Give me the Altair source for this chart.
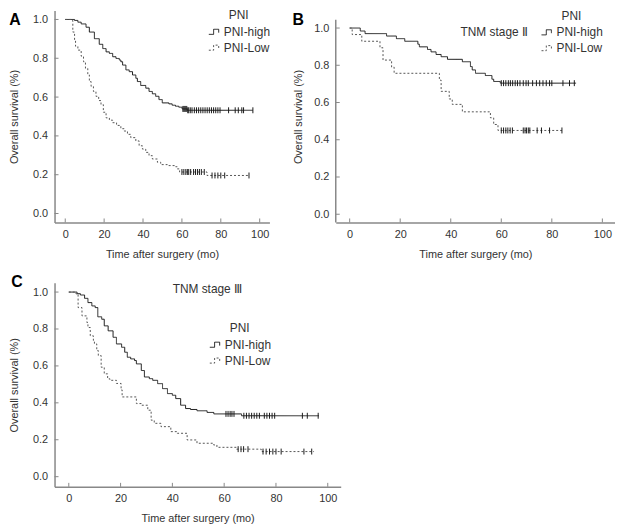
import altair as alt
import pandas as pd

GROUPS = ["PNI-high", "PNI-Low"]
X_TICKS = [0, 20, 40, 60, 80, 100]
Y_TICKS = [0.0, 0.2, 0.4, 0.6, 0.8, 1.0]
X_DOM = [-5.5, 105]
FONT = "Liberation Sans"
STEP_PATH = "M-1,0.45L-0.15,0.45L-0.15,-0.45L0.75,-0.45L0.75,0.15"

# ---- Panel A (all stages) ----
a_hi_t = [0, 4.8, 6.5, 8.2, 10.7, 12.4, 15.0, 17.5, 19.3, 21.0, 22.7, 24.4, 26.1, 27.8, 28.6, 29.5,
          31.2, 32.9, 34.6, 36.3, 37.1, 38.8, 41.4, 43.1, 44.8, 46.5, 48.2, 49.9, 53.3, 55.0, 56.7,
          58.4, 60.1, 62.7, 96.5]
a_hi_s = [1.0, 0.995, 0.986, 0.977, 0.960, 0.935, 0.901, 0.872, 0.850, 0.833, 0.825, 0.808, 0.799,
          0.791, 0.782, 0.765, 0.740, 0.731, 0.714, 0.697, 0.680, 0.660, 0.646, 0.629, 0.617, 0.604,
          0.587, 0.570, 0.565, 0.558, 0.553, 0.548, 0.539, 0.532, 0.532]
a_hi_cens = [60.5, 61, 61.5, 62, 62.5, 63, 63.5, 64.3, 65.2, 66.4, 67.5, 68.6, 69.7, 70.8, 71.9, 73,
             74.1, 75.2, 76.3, 77.4, 78.5, 79.6, 84, 87.4, 89, 90.8, 91.7, 96.5]
a_lo_t = [0, 3.1, 3.9, 4.8, 5.3, 6.5, 8.2, 9.4, 10.4, 11.6, 12.4, 13.3, 14.5, 15.8, 17.2, 18.4, 19.6,
          21.0, 22.7, 24.4, 26.4, 28.6, 30.3, 32.0, 33.7, 36.3, 38.0, 39.7, 41.4, 43.1, 44.8, 47.4,
          49.1, 52.5, 56.7, 57.6, 58.8, 72.9, 94.5]
a_lo_s = [1.0, 0.995, 0.935, 0.893, 0.862, 0.842, 0.811, 0.782, 0.748, 0.714, 0.680, 0.655, 0.629,
          0.604, 0.582, 0.561, 0.522, 0.493, 0.481, 0.468, 0.454, 0.437, 0.425, 0.408, 0.391, 0.374,
          0.349, 0.332, 0.315, 0.298, 0.281, 0.264, 0.252, 0.247, 0.241, 0.230, 0.214, 0.196, 0.196]
a_lo_cens = [60, 61, 62, 62.8, 63.5, 64.5, 66, 67, 68, 69, 70, 71.5, 75.5, 77, 78.5, 80, 82, 94.5]

# ---- Panel B (TNM stage II) ----
b_hi_t = [0, 4.2, 6.1, 14.6, 18.5, 21.8, 27.0, 27.6, 30.8, 32.2, 34.2, 36.2, 38.7, 44.6, 47.8, 48.5,
          49.8, 53.7, 56.3, 57.0, 59.6, 89.6]
b_hi_s = [1.0, 0.984, 0.970, 0.957, 0.943, 0.929, 0.913, 0.899, 0.885, 0.872, 0.858, 0.846, 0.832,
          0.819, 0.793, 0.775, 0.757, 0.745, 0.725, 0.713, 0.704, 0.704]
b_hi_cens = [60, 60.9, 61.8, 62.8, 63.6, 64.5, 65.5, 66.4, 67.4, 68.7, 69.8, 70.7, 72.4, 73.9, 75.2,
             76.5, 77.8, 79.1, 80, 84.4, 87, 88.9]
b_lo_t = [0, 1.0, 4.8, 12.0, 13.2, 16.6, 17.6, 35.5, 36.2, 39.4, 40.6, 44.6, 55.7, 57.0, 58.7, 84.0]
b_lo_s = [1.0, 0.965, 0.929, 0.894, 0.828, 0.790, 0.757, 0.720, 0.660, 0.619, 0.590, 0.550, 0.518,
          0.482, 0.450, 0.450]
b_lo_cens = [60, 60.9, 61.8, 62.6, 63.5, 64.4, 68.7, 69.4, 70, 70.7, 71.3, 74.2, 75.9, 79.1, 84]

# ---- Panel C (TNM stage III) ----
c_hi_t = [0, 3.2, 4.5, 6.1, 7.4, 8.9, 10.2, 11.2, 12.7, 13.7, 15.2, 17.1, 18.4, 20.4, 21.6, 22.6,
          23.9, 25.4, 26.1, 28.0, 29.2, 31.1, 32.4, 34.3, 36.2, 38.1, 40.0, 41.3, 43.2, 45.1, 47.0,
          49.5, 53.4, 56.0, 66.7, 96.6]
c_hi_s = [1.0, 0.991, 0.984, 0.966, 0.943, 0.925, 0.916, 0.866, 0.853, 0.817, 0.790, 0.755, 0.719,
          0.701, 0.674, 0.647, 0.638, 0.629, 0.611, 0.575, 0.540, 0.531, 0.522, 0.504, 0.477, 0.450,
          0.441, 0.423, 0.387, 0.369, 0.364, 0.357, 0.348, 0.340, 0.330, 0.330]
c_hi_cens = [60.7, 61.5, 62.3, 63.0, 63.8, 67.6, 68.6, 69.6, 70.6, 71.6, 72.6, 73.6, 75.5, 76.5,
             77.5, 78.5, 79.5, 90.2, 92.1, 96.3]
c_lo_t = [0, 2.8, 3.6, 5.1, 7.0, 7.4, 8.3, 9.5, 9.9, 10.8, 11.4, 12.5, 13.7, 15.0, 15.9, 18.4, 20.2,
          20.6, 26.1, 28.0, 30.5, 31.8, 33.0, 35.6, 39.4, 41.9, 45.7, 49.5, 55.9, 57.2, 64.8, 74.3, 94.7]
c_lo_s = [1.0, 0.99, 0.916, 0.871, 0.835, 0.808, 0.763, 0.737, 0.719, 0.683, 0.656, 0.593, 0.557,
          0.530, 0.522, 0.505, 0.470, 0.432, 0.396, 0.387, 0.360, 0.306, 0.289, 0.271, 0.244, 0.235,
          0.199, 0.181, 0.172, 0.159, 0.149, 0.136, 0.136]
c_lo_cens = [65.4, 66.5, 67.5, 69.2, 75, 76.2, 77.5, 78.8, 80, 82, 90.8, 93.8]


def surv_at(ts, ss, x):
    v = ss[0]
    for ti, si in zip(ts, ss):
        if ti <= x:
            v = si
    return v


def panel(hi_t, hi_s, lo_t, lo_s, hi_c, lo_c, w, h, y_dom, letter, lxy, legxy, ytitle_pad,
          note=None, yaxis_top=None):
    lines = pd.concat([
        pd.DataFrame({"t": hi_t, "s": hi_s, "PNI": GROUPS[0]}),
        pd.DataFrame({"t": lo_t, "s": lo_s, "PNI": GROUPS[1]}),
    ])
    cens = pd.DataFrame({
        "t": hi_c + lo_c,
        "s": [surv_at(hi_t, hi_s, c) for c in hi_c] + [surv_at(lo_t, lo_s, c) for c in lo_c],
    })
    xenc = alt.X("t:Q", scale=alt.Scale(domain=X_DOM, nice=False, zero=False),
                 axis=alt.Axis(values=X_TICKS, title="Time after surgery (mo)", format="d",
                               labelPadding=6, titlePadding=9))
    yenc = alt.Y("s:Q", scale=alt.Scale(domain=y_dom, nice=False, zero=False),
                 axis=alt.Axis(values=Y_TICKS, title="Overall survival (%)", format=".1f",
                               labelPadding=7, titlePadding=ytitle_pad,
                               domain=(yaxis_top is None)))
    leg = alt.Legend(orient="none", legendX=legxy[0], legendY=legxy[1], title="PNI",
                     titleFontWeight="normal", titleFontSize=12, titleFont=FONT, titleColor="#333",
                     labelFontSize=12, labelFont=FONT, labelColor="#333",
                     symbolType=STEP_PATH, symbolSize=130, symbolStrokeWidth=1,
                     symbolFillColor="transparent", padding=0, rowPadding=3, titlePadding=3,
                     labelOffset=3, titleAnchor="middle")
    line = alt.Chart(lines).mark_line(interpolate="step-after", strokeWidth=1).encode(
        x=xenc, y=yenc,
        color=alt.Color("PNI:N", scale=alt.Scale(domain=GROUPS, range=["#1a1a1a", "#555555"]),
                        legend=leg),
        strokeDash=alt.StrokeDash("PNI:N", scale=alt.Scale(domain=GROUPS, range=[[1, 0], [2, 2]]),
                                  legend=leg),
    )
    ticks = alt.Chart(cens).mark_point(shape="M0,-1L0,1", size=36, strokeWidth=1, filled=False,
                                       opacity=1, color="#1a1a1a").encode(x="t:Q", y="s:Q")
    xt = alt.Chart(pd.DataFrame({"t": X_TICKS})).mark_rule(color="#888", strokeWidth=1).encode(
        x="t:Q", y=alt.value(h), y2=alt.value(h - 4))
    yt = alt.Chart(pd.DataFrame({"s": Y_TICKS})).mark_rule(color="#888", strokeWidth=1).encode(
        y="s:Q", x=alt.value(0), x2=alt.value(4))
    lab = alt.Chart(pd.DataFrame({"lab": [letter]})).mark_text(
        fontSize=16, fontWeight="bold", font=FONT, color="black", align="center", baseline="middle"
    ).encode(text="lab:N", x=alt.value(lxy[0]), y=alt.value(lxy[1]))
    layers = [line, ticks, xt, yt, lab]
    if yaxis_top is not None:
        ax = alt.Chart(pd.DataFrame({"a": [0]})).mark_rule(color="#888", strokeWidth=1.5).encode(
            x=alt.value(0), y=alt.value(yaxis_top), y2=alt.value(h))
        layers.append(ax)
    if note is not None:
        nt = alt.Chart(pd.DataFrame({"t": [note[0]], "s": [note[1]], "lab": [note[2]]})).mark_text(
            fontSize=12, font=FONT, color="#333", align="center", baseline="middle"
        ).encode(x="t:Q", y="s:Q", text="lab:N")
        layers.append(nt)
    return alt.layer(*layers).properties(width=w, height=h)


A = panel(a_hi_t, a_hi_s, a_lo_t, a_lo_s, a_hi_cens, a_lo_cens, 217, 214, [-0.046, 1.046],
          "A", (-40, 9.5), (155, 0), 13)
B = panel(b_hi_t, b_hi_s, b_lo_t, b_lo_s, b_hi_cens, b_lo_cens, 282, 214, [-0.044, 1.094],
          "B", (-38, 9.3), (207, 0.5), 10, note=(57.2, 0.979, "TNM stage Ⅱ"), yaxis_top=9.3)
C = panel(c_hi_t, c_hi_s, c_lo_t, c_lo_s, c_hi_cens, c_lo_cens, 289, 206, [-0.055, 1.05],
          "C", (-38, -1), (156, 41), 13, note=(53.5, 1.014, "TNM stage Ⅲ"))

top = alt.hconcat(A, B, spacing=22).resolve_scale(
    color="independent", strokeDash="independent"
).resolve_legend(color="independent", strokeDash="independent")
chart = alt.vconcat(top, C, spacing=15).resolve_scale(
    color="independent", strokeDash="independent"
).resolve_legend(color="independent", strokeDash="independent").properties(padding=0).configure(
    font=FONT
).configure_view(stroke=None).configure_axis(
    domainColor="#888", domainWidth=1.5, ticks=False, tickSize=0, grid=False,
    labelColor="#333", titleColor="#333", labelFontSize=11, titleFontSize=11,
    titleFontWeight="normal", labelFont=FONT, titleFont=FONT
)

chart.save("out.html", embed_options={"renderer": "svg", "actions": False})
